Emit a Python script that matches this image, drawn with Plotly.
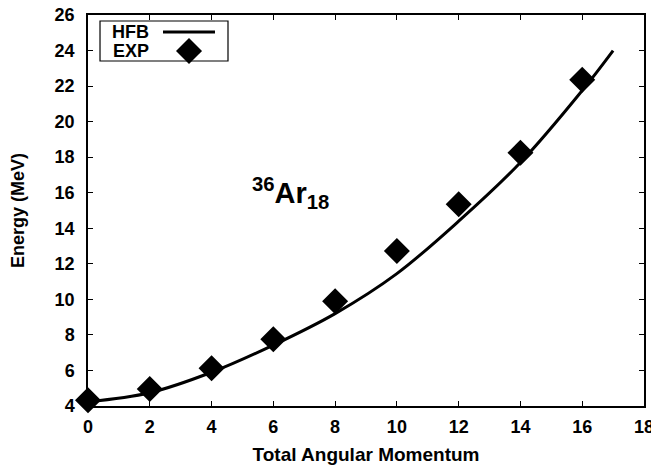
import plotly.graph_objects as go

# Experimental levels
exp_J = [0, 2, 4, 6, 8, 10, 12, 14, 16]
exp_E = [4.33, 4.95, 6.12, 7.75, 9.9, 12.72, 15.35, 18.25, 22.35]

# HFB theoretical curve
hfb_J = [0, 2, 4, 6, 8, 10, 12, 14, 16, 17]
hfb_E = [4.24, 4.75, 5.9, 7.43, 9.2, 11.45, 14.4, 17.7, 21.75, 24.0]

x_ticks = list(range(0, 19, 2))
y_ticks = list(range(4, 27, 2))

FONT = "Liberation Sans, Arial, Helvetica, sans-serif"

fig = go.Figure()
fig.add_trace(go.Scatter(
    x=hfb_J, y=hfb_E, mode="lines", name="HFB",
    line=dict(color="black", width=3, shape="spline", smoothing=1.0),
    showlegend=False,
))
fig.add_trace(go.Scatter(
    x=exp_J, y=exp_E, mode="markers", name="EXP",
    marker=dict(symbol="diamond", size=20, color="black"),
    showlegend=False, cliponaxis=False,
))

axis_common = dict(
    showgrid=False, zeroline=False, automargin=False,
    showline=True, linecolor="black", linewidth=1.5, mirror="ticks",
    ticks="inside", ticklen=5, tickwidth=1, tickcolor="black",
    ticklabeloverflow="allow",
    tickfont=dict(family=FONT, size=18, color="black"),
)

fig.update_xaxes(range=[0, 18], tickvals=x_ticks,
                 ticktext=[f"<b>{v}</b>" for v in x_ticks],
                 ticklabelstandoff=4,
                 title=dict(text="<b>Total Angular Momentum</b>",
                            font=dict(family=FONT, size=19, color="black"),
                            standoff=11),
                 **axis_common)
fig.update_yaxes(range=[4, 26], tickvals=y_ticks,
                 ticktext=[f"<b>{v}</b>" for v in y_ticks],
                 ticklabelstandoff=8,
                 title=dict(text="<b>Energy (MeV)</b>",
                            font=dict(family=FONT, size=18, color="black"),
                            standoff=33),
                 **axis_common)

# Nucleus label
fig.add_annotation(x=6.55, y=16.0, xref="x", yref="y",
                   text="<b><sup>36</sup>Ar<sub>18</sub></b>",
                   showarrow=False, xanchor="center", yanchor="middle",
                   font=dict(family=FONT, size=29, color="black"))

# Custom gnuplot-style key
fig.add_shape(type="rect", xref="paper", yref="paper",
              x0=0.0216, x1=0.2518, y0=0.8824, y1=0.9847,
              line=dict(color="black", width=1.2), fillcolor="white", layer="above")
fig.add_annotation(x=0.113, y=0.9565, xref="paper", yref="paper",
                   xanchor="right", yanchor="middle",
                   text="<b>HFB</b>", showarrow=False,
                   font=dict(family=FONT, size=18, color="black"))
fig.add_annotation(x=0.113, y=0.908, xref="paper", yref="paper",
                   xanchor="right", yanchor="middle",
                   text="<b>EXP</b>", showarrow=False,
                   font=dict(family=FONT, size=18, color="black"))
fig.add_shape(type="line", xref="paper", yref="paper",
              x0=0.1349, x1=0.2284, y0=0.9565, y1=0.9565,
              line=dict(color="black", width=3), layer="above")
cx, cy, hx, hy = 0.1817, 0.908, 0.0234, 0.0332
fig.add_shape(type="path", xref="paper", yref="paper",
              path=f"M {cx-hx} {cy} L {cx} {cy+hy} L {cx+hx} {cy} L {cx} {cy-hy} Z",
              fillcolor="black", line=dict(color="black", width=0), layer="above")

fig.update_layout(
    width=659, height=466,
    margin=dict(l=80, r=23, t=7, b=68),
    plot_bgcolor="white", paper_bgcolor="white",
    font=dict(family=FONT, color="black"),
)

fig.write_html("out.html")
